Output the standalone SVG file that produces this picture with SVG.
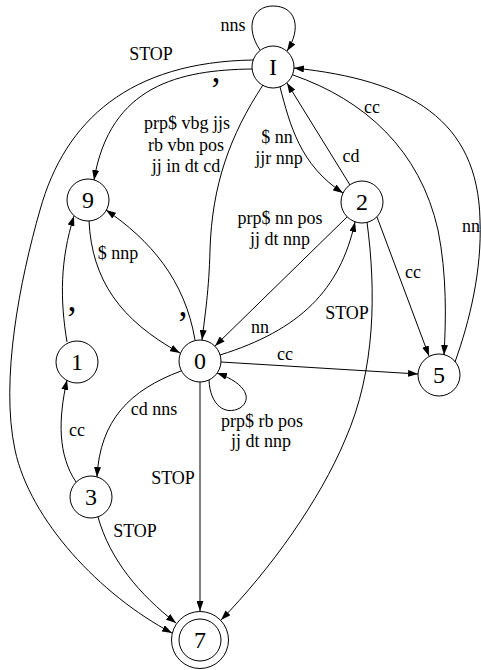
<svg xmlns="http://www.w3.org/2000/svg" width="481" height="670" viewBox="0 0 481 670">
<style>
.n circle{fill:none;stroke:#000;stroke-width:1}
.n text{font-family:"Liberation Serif","Times New Roman",serif;font-size:24px;text-anchor:middle;fill:#000}
.e path{fill:none;stroke:#000;stroke-width:1;marker-end:url(#a)}
.l text{font-family:"Liberation Serif","Times New Roman",serif;font-size:18px;text-anchor:middle;fill:#000}
.l text.c{font-size:36px}
</style>
<defs>
<marker id="a" viewBox="0 0 10 7" refX="10" refY="3.5" markerWidth="10" markerHeight="7" markerUnits="userSpaceOnUse" orient="auto">
<path d="M0,0 L10,3.5 L0,7 z" fill="#000"/>
</marker>
</defs>
<rect width="481" height="670" fill="#fff"/>
<g id="connectors" class="e">
<path d="M260,50 C245,28 252,6 273,6 C296,6 302,28 287,51"/>
<path d="M253,60 C130,62 65,120 40,210 C20,280 0,380 15,450 C30,520 100,595 172,633"/>
<path d="M252,69 C180,70 110,85 94,180"/>
<path d="M263,85 C230,135 212,185 210,250 C209,290 205,315 202,340"/>
<path d="M280,87 C290,125 300,165 343,193"/>
<path d="M350,185 L287,83"/>
<path d="M293,75 C365,100 420,150 438,230 C447,275 446,320 444,355"/>
<path d="M455,362 C470,320 482,270 480,220 C478,120 410,80 294,68"/>
<path d="M377,217 L429,356"/>
<path d="M347,217 L215,346"/>
<path d="M220,355 C300,330 340,290 355,222"/>
<path d="M221,362 L418,374"/>
<path d="M209,380 C210,405 225,416 240,408 C252,400 248,384 217,373"/>
<path d="M89,221 C92,280 120,320 180,353"/>
<path d="M195,340 C185,280 150,240 106,210"/>
<path d="M67,342 C60,300 60,260 74,216"/>
<path d="M76,482 C58,455 58,420 67,380"/>
<path d="M181,371 C130,390 100,420 97,477"/>
<path d="M200,382 L200,611"/>
<path d="M98,517 C110,560 140,595 176,623"/>
<path d="M367,222 C376,290 376,370 345,440 C320,500 270,570 221,620"/>
</g>
<g id="labels" class="l">
<text x="233" y="31">nns</text>
<text x="151" y="60">STOP</text>
<text class="c" x="216" y="82">,</text>
<text x="187" y="129">prp$ vbg jjs</text>
<text x="186" y="150.5">rb vbn pos</text>
<text x="186" y="172">jj in dt cd</text>
<text x="277" y="143">$ nn</text>
<text x="279" y="164">jjr nnp</text>
<text x="351" y="162">cd</text>
<text x="372" y="113">cc</text>
<text x="280" y="224">prp$ nn pos</text>
<text x="280" y="245">jj dt nnp</text>
<text x="471" y="232">nn</text>
<text x="413" y="278">cc</text>
<text x="347" y="319">STOP</text>
<text x="260" y="333">nn</text>
<text x="285" y="360">cc</text>
<text x="262" y="427">prp$ rb pos</text>
<text x="261" y="447">jj dt nnp</text>
<text x="118" y="259">$ nnp</text>
<text class="c" x="183" y="316">,</text>
<text class="c" x="72" y="311">,</text>
<text x="77" y="436">cc</text>
<text x="154" y="415">cd nns</text>
<text x="173" y="484">STOP</text>
<text x="135" y="537">STOP</text>
</g>
<g id="node-I" class="n"><circle cx="273" cy="67" r="21"/><text x="273" y="75">I</text></g>
<g id="node-9" class="n"><circle cx="88" cy="200" r="21"/><text x="88" y="208">9</text></g>
<g id="node-2" class="n"><circle cx="362" cy="202" r="21"/><text x="362" y="210">2</text></g>
<g id="node-0" class="n"><circle cx="200" cy="361" r="21"/><text x="200" y="369">0</text></g>
<g id="node-1" class="n"><circle cx="77" cy="362" r="21"/><text x="77" y="370">1</text></g>
<g id="node-5" class="n"><circle cx="439" cy="375" r="21"/><text x="439" y="383">5</text></g>
<g id="node-3" class="n"><circle cx="91" cy="497" r="21"/><text x="91" y="505">3</text></g>
<g id="node-7" class="n"><circle cx="200" cy="640" r="28.5"/><circle cx="200" cy="640" r="21"/><text x="200" y="648">7</text></g>
</svg>
